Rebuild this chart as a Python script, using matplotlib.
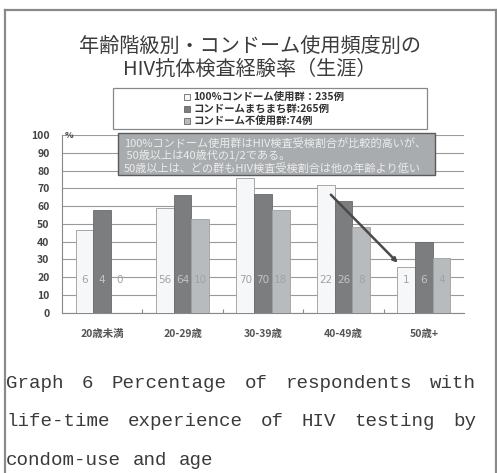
import matplotlib
matplotlib.use("Agg")
import matplotlib.pyplot as plt
from matplotlib.patches import Rectangle
from matplotlib.lines import Line2D
import numpy as np

plt.rcParams["font.family"] = ["Noto Sans CJK JP", "DejaVu Sans"]

# ---- data -------------------------------------------------------------------
categories = ["20歳未満", "20-29歳", "30-39歳", "40-49歳", "50歳+"]
pct_full = [46.5, 59, 76, 72, 25.5]      # 100%コンドーム使用群
pct_mixed = [58, 66, 67, 63, 40]         # コンドームまちまち群
pct_none = [0, 53, 58, 48, 31]           # コンドーム不使用群
n_full = [6, 56, 70, 22, 1]
n_mixed = [4, 64, 70, 26, 6]
n_none = [0, 10, 18, 8, 4]
legend_labels = ["100%コンドーム使用群：235例",
                 "コンドームまちまち群:265例",
                 "コンドーム不使用群:74例"]
yticks = [0, 10, 20, 30, 40, 50, 60, 70, 80, 90, 100]
title = "年齢階級別・コンドーム使用頻度別の\nHIV抗体検査経験率（生涯）"
note_lines = ["100%コンドーム使用群はHIV検査受検割合が比較的高いが、",
              " 50歳以上は40歳代の1/2である。",
              "50歳以上は、どの群もHIV検査受検割合は他の年齢より低い"]
caption_lines = ["Graph 6 Percentage of respondents with",
                 "life-time experience of HIV testing by",
                 "condom-use and age"]

# ---- style ------------------------------------------------------------------
W, H = 497, 473
FILL = {"full": ("#f5f7f9", "#9a9a9a"),
        "mixed": ("#7b7d7f", "#6a6a6a"),
        "none": ("#b8bbbe", "#a0a0a0")}
BAR_W = 0.22


def fx(x):
    return x / W


def fy(y):
    return 1 - y / H


fig = plt.figure(figsize=(W / 100, H / 100), dpi=100)
fig.patch.set_facecolor("white")

# outer frame
for xs, ys in [((4.5, 4.5), (10, 473)), ((4.5, 496), (10, 10)),
               ((496, 496), (10, 473))]:
    fig.add_artist(Line2D([fx(v) for v in xs], [fy(v) for v in ys],
                          color="#8a8a8a", lw=1.6))

# ---- bars -------------------------------------------------------------------
ax = fig.add_axes([fx(62), fy(312.7), fx(464) - fx(62), fy(135) - fy(312.7)])
x = np.arange(len(categories))
series = [(pct_full, n_full, "full", -BAR_W),
          (pct_mixed, n_mixed, "mixed", 0),
          (pct_none, n_none, "none", BAR_W)]
for vals, counts, kind, off in series:
    fc, ec = FILL[kind]
    ax.bar(x + off, vals, BAR_W, color=fc, edgecolor=ec, linewidth=0.6,
           zorder=3)
    tc = "#c4c4c4" if kind == "mixed" else "#a2a2a2"
    for xi, c in zip(x, counts):
        ax.text(xi + off, 18.5, str(c), ha="center", va="center",
                fontsize=7.5, color=tc, zorder=4, family="DejaVu Sans")

# decline arrow between 40代 and 50歳+ of the 100% group
ax.annotate("", xy=(x[4] - BAR_W - 0.08, pct_full[4] + 1.5),
            xytext=(x[3] - BAR_W + 0.04, pct_full[3] - 4.5),
            arrowprops=dict(arrowstyle="-|>", color="#4a4a4a", lw=1.8,
                            mutation_scale=6), zorder=6)

ax.set_xlim(-0.5, len(categories) - 0.5)
ax.set_ylim(0, 100)
ax.set_yticks(yticks)
ax.set_yticklabels([str(t) for t in yticks], fontsize=7.5,
                   fontweight="bold", color="#444444")
ax.set_xticks(x[:-1] + 0.5)
ax.set_xticklabels([])
ax.tick_params(axis="x", direction="in", length=3, color="#888888")
ax.tick_params(axis="y", length=0, pad=9)
ax.yaxis.grid(True, color="#9a9a9a", lw=0.8)
ax.set_axisbelow(True)
for s in ("top", "right"):
    ax.spines[s].set_visible(False)
ax.spines["left"].set_color("#888888")
ax.spines["bottom"].set_color("#888888")
ax.text(-0.46, 100, "%", fontsize=6.5, fontweight="bold", color="#444444",
        ha="left", va="center")
for xi, lab in zip(x, categories):
    ax.text(xi, -12, lab, ha="center", va="center", fontsize=7.5,
            fontweight="bold", color="#555555")

# ---- title ------------------------------------------------------------------
fig.text(fx(250), fy(58), title, ha="center", va="center", fontsize=14.5,
         color="#3c3c3c", linespacing=1.15)

# ---- legend box ---------------------------------------------------------------
fig.add_artist(Rectangle((fx(113), fy(129)), fx(427) - fx(113),
                         fy(88) - fy(129), transform=fig.transFigure,
                         facecolor="white", edgecolor="#888888", lw=0.9))
for i, (lab, kind) in enumerate(zip(legend_labels, ["full", "mixed", "none"])):
    yy = fy(97 + 12 * i)
    fc, ec = FILL[kind]
    fig.add_artist(Rectangle((fx(184), yy - 3 / H), 6 / W, 6 / H,
                             transform=fig.transFigure, facecolor=fc,
                             edgecolor="#666666", lw=0.6))
    fig.text(fx(193), yy, lab, ha="left", va="center", fontsize=7.5,
             fontweight="bold", color="#333333")

# ---- note box ---------------------------------------------------------------
fig.add_artist(Rectangle((fx(118), fy(175)), fx(435) - fx(118),
                         fy(133) - fy(175), transform=fig.transFigure,
                         facecolor="#a9acaf", edgecolor="#5a5a5a", lw=1.0,
                         zorder=5))
for i, line in enumerate(note_lines):
    fig.text(fx(124), fy(143 + 12.5 * i), line, ha="left", va="center",
             fontsize=8, color="#ececec", zorder=6)

# ---- caption (justified monospace) -------------------------------------------
CAP_FS = 13.8
char_px = 0.6 * CAP_FS * 100 / 72
left, right = 6, 476
for i, line in enumerate(caption_lines):
    words = line.split(" ")
    base = fy([388, 426, 465][i])
    if i < len(caption_lines) - 1:
        total = sum(len(w) for w in words) * char_px
        gap = (right - left - total) / (len(words) - 1)
    else:
        gap = char_px
    cx = left
    for w in words:
        fig.text(fx(cx), base, w, ha="left", va="baseline",
                 family="Liberation Mono", fontsize=CAP_FS, color="#3a3a3a")
        cx += len(w) * char_px + gap

fig.savefig("out.png", dpi=100)
